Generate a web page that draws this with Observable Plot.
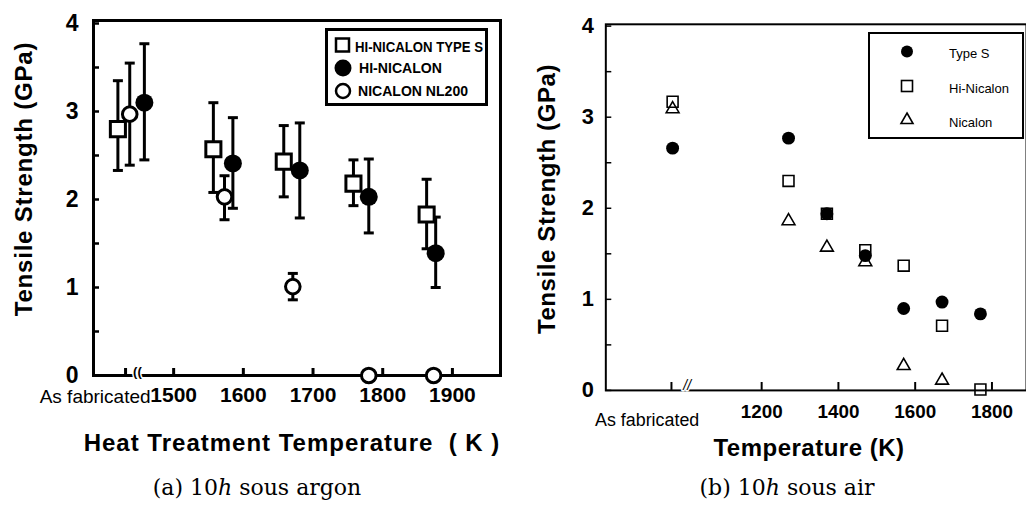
<!DOCTYPE html>
<html><head><meta charset="utf-8">
<script src="https://cdn.jsdelivr.net/npm/d3@7"></script>
<script src="https://cdn.jsdelivr.net/npm/@observablehq/plot@0.6"></script>
<style>
body{margin:0;background:#fff;}
#wrap{position:relative;width:1026px;height:507px;overflow:hidden;font-family:"Liberation Sans",Arial,sans-serif;color:#000;}
.abs{position:absolute;white-space:pre;}
.ctr{transform:translate(-50%,-50%);}
.rot{transform:translate(-50%,-50%) rotate(-90deg);}
.ttl{font-weight:bold;font-size:24px;line-height:1;}
.cap{font-family:"DejaVu Serif","Liberation Serif",serif;font-size:22px;line-height:1;}
</style></head><body>
<div id="wrap">
  <div id="pa" class="abs" style="left:0;top:0"></div>
  <div id="pb" class="abs" style="left:520px;top:0"></div>
  <div class="abs ttl rot" style="left:24px;top:179px;letter-spacing:0.8px">Tensile Strength (GPa)</div>
  <div class="abs ttl ctr" style="left:292px;top:443px;letter-spacing:1px">Heat Treatment Temperature  ( K )</div>
  <div class="abs cap ctr" style="left:257px;top:488px">(a) 10<i>h</i> sous argon</div>
  <div class="abs ttl rot" style="left:547px;top:199px;letter-spacing:0.6px">Tensile Strength (GPa)</div>
  <div class="abs ttl ctr" style="left:809px;top:448px;letter-spacing:0.5px">Temperature (K)</div>
  <div class="abs cap ctr" style="left:787px;top:488px">(b) 10<i>h</i> sous air</div>
  <div id="lega" class="abs" style="left:325px;top:28px"></div>
  <div id="legb" class="abs" style="left:868px;top:32px"></div>
</div>
<script>
// ---------- Panel (a): 10h under argon ----------
const asFabA = 1431;          // x position used for "As fabricated"
const breakA = 1448;          // axis break position
const xTicksA = [asFabA, 1500, 1600, 1700, 1800, 1900];
const yTicksA = [0, 0.5, 1, 1.5, 2, 2.5, 3, 3.5, 4];

const typeS_A_T  = [1420, 1557, 1658, 1758, 1863];
const typeS_A_v  = [2.80, 2.57, 2.43, 2.18, 1.83];
const typeS_A_lo = [2.33, 2.08, 2.03, 1.93, 1.44];
const typeS_A_hi = [3.35, 3.10, 2.84, 2.45, 2.23];

const hiNic_A_T  = [1458, 1585, 1681, 1780, 1876];
const hiNic_A_v  = [3.10, 2.41, 2.33, 2.03, 1.39];
const hiNic_A_lo = [2.45, 1.90, 1.79, 1.62, 1.00];
const hiNic_A_hi = [3.77, 2.93, 2.87, 2.46, 1.80];

const nl200_A_T  = [1437, 1573, 1671, 1780, 1873];
const nl200_A_v  = [2.97, 2.03, 1.01, 0, 0];
const nl200_A_lo = [2.39, 1.77, 0.86, null, null];
const nl200_A_hi = [3.55, 2.27, 1.16, null, null];

// ---------- Panel (b): 10h in air ----------
const asFabB = 965;
const breakB = 1006;
const xTicksB = [asFabB, 1200, 1400, 1600, 1800];
const yTicksB = [0, 0.5, 1, 1.5, 2, 2.5, 3, 3.5, 4];

const typeS_B_T = [968, 1270, 1370, 1470, 1570, 1670, 1770];
const typeS_B_v = [2.66, 2.77, 1.94, 1.48, 0.90, 0.97, 0.84];
const hiNic_B_T = [968, 1270, 1370, 1470, 1570, 1670, 1770];
const hiNic_B_v = [3.17, 2.30, 1.94, 1.54, 1.37, 0.71, 0.01];
const nical_B_T = [968, 1270, 1370, 1470, 1570, 1670];
const nical_B_v = [3.09, 1.86, 1.57, 1.41, 0.27, 0.11];

const rows = (T, v, lo, hi) => T.map((t, i) => ({T: t, v: v[i], lo: lo ? lo[i] : null, hi: hi ? hi[i] : null}));
const typeSA = rows(typeS_A_T, typeS_A_v, typeS_A_lo, typeS_A_hi);
const hiNicA = rows(hiNic_A_T, hiNic_A_v, hiNic_A_lo, hiNic_A_hi);
const nl200A = rows(nl200_A_T, nl200_A_v, nl200_A_lo, nl200_A_hi);
const errA = [...typeSA, ...hiNicA, ...nl200A].filter(d => d.lo != null);

const typeSB = rows(typeS_B_T, typeS_B_v);
const hiNicB = rows(hiNic_B_T, hiNic_B_v);
const nicalB = rows(nical_B_T, nical_B_v);

const capSym = {draw(ctx, size) { const h = Math.sqrt(size / Math.PI); ctx.moveTo(-h, 0); ctx.lineTo(h, 0); }};
const font = "Liberation Sans, Arial, sans-serif";
const blank = () => "";

const plotA = Plot.plot({
  width: 520, height: 460,
  marginLeft: 93, marginRight: 20, marginTop: 20, marginBottom: 85,
  x: {domain: [1385, 1969]},
  y: {domain: [0, 4.034]},
  style: {fontFamily: font, color: "black", background: "transparent", overflow: "visible"},
  marks: [
    // inward ticks (shifted into the frame)
    Plot.axisY(yTicksA, {tickSize: 6, dx: 6, strokeWidth: 2.5, tickFormat: blank, label: null}),
    Plot.axisX(xTicksA, {tickSize: 7, dy: -7, strokeWidth: 3, tickFormat: blank, label: null}),
    // labels
    Plot.axisY(yTicksA, {tickSize: 0, tickPadding: 15, fontSize: 23, fontWeight: "bold",
      tickFormat: d => Number.isInteger(d) ? String(d) : "", label: null}),
    Plot.axisX(xTicksA, {tickSize: 0, tickPadding: 12, fontSize: 21, fontWeight: "bold",
      tickFormat: d => d === asFabA ? "" : String(d), label: null}),
    Plot.text(["As fabricated"], {x: [asFabA], frameAnchor: "bottom", text: d => d, dy: 14, dx: 25,
      textAnchor: "end", lineAnchor: "top", fontSize: 19}),
    Plot.frame({strokeWidth: 3}),
    Plot.text([breakA], {x: d => d, frameAnchor: "bottom", text: () => "((", fontSize: 13, fontWeight: "bold",
      fill: "black", stroke: "white", strokeWidth: 3, paintOrder: "stroke"}),
    Plot.ruleX(errA, {x: "T", y1: "lo", y2: "hi", strokeWidth: 3}),
    Plot.dot(errA, {x: "T", y: "lo", symbol: capSym, r: 5, stroke: "black", fill: "none", strokeWidth: 3}),
    Plot.dot(errA, {x: "T", y: "hi", symbol: capSym, r: 5, stroke: "black", fill: "none", strokeWidth: 3}),
    Plot.dot(typeSA, {x: "T", y: "v", symbol: "square", r: 8.5, fill: "white", stroke: "black", strokeWidth: 3}),
    Plot.dot(hiNicA, {x: "T", y: "v", r: 9, fill: "black", stroke: "none"}),
    Plot.dot(nl200A, {x: "T", y: "v", r: 7.3, fill: "white", stroke: "black", strokeWidth: 3})
  ]
});
document.getElementById("pa").appendChild(plotA);

const plotB = Plot.plot({
  width: 510, height: 460,
  marginLeft: 86, marginRight: 0, marginTop: 24, marginBottom: 67,
  x: {domain: [794, 1890]},
  y: {domain: [0, 4.02]},
  style: {fontFamily: font, color: "black", background: "transparent", overflow: "visible"},
  marks: [
    Plot.axisY(yTicksB, {tickSize: 6, dx: 6, strokeWidth: 1.5, tickFormat: blank, label: null}),
    Plot.axisX(xTicksB, {tickSize: 8, dy: -8, strokeWidth: 2, tickFormat: blank, label: null}),
    Plot.axisY(yTicksB, {tickSize: 0, tickPadding: 12, fontSize: 22, fontWeight: "bold",
      tickFormat: d => Number.isInteger(d) ? String(d) : "", label: null}),
    Plot.axisX(xTicksB, {tickSize: 0, tickPadding: 14, fontSize: 19, fontWeight: "bold",
      tickFormat: d => d === asFabB ? "" : String(d), label: null}),
    Plot.text(["As fabricated"], {x: [asFabB], frameAnchor: "bottom", text: d => d, dy: 23, dx: 28,
      textAnchor: "end", lineAnchor: "top", fontSize: 18}),
    Plot.frame({strokeWidth: 2}),
    Plot.text([breakB], {x: d => d, frameAnchor: "bottom", text: () => "//", fontSize: 14, fontStyle: "italic",
      fill: "black", stroke: "white", strokeWidth: 3, paintOrder: "stroke"}),
    Plot.dot(typeSB, {x: "T", y: "v", r: 6.5, fill: "black", stroke: "none"}),
    Plot.dot(hiNicB, {x: "T", y: "v", symbol: "square", r: 6.2, fill: "none", stroke: "black", strokeWidth: 1.6}),
    Plot.dot(nicalB, {x: "T", y: "v", symbol: "triangle", r: 4.8, fill: "none", stroke: "black", strokeWidth: 1.6})
  ]
});
document.getElementById("pb").appendChild(plotB);

// ---------- Legends ----------
const NS = "http://www.w3.org/2000/svg";
function el(tag, attrs, parent) {
  const e = document.createElementNS(NS, tag);
  for (const k in attrs) e.setAttribute(k, attrs[k]);
  if (parent) parent.appendChild(e);
  return e;
}
function txt(parent, s, attrs) { const t = el("text", attrs, parent); t.textContent = s; return t; }

const legA = el("svg", {width: 165, height: 80});
el("rect", {x: 1.5, y: 1.5, width: 160, height: 75, fill: "white", stroke: "black", "stroke-width": 3}, legA);
el("rect", {x: 11, y: 10.5, width: 13, height: 13, fill: "white", stroke: "black", "stroke-width": 2.5}, legA);
txt(legA, "HI-NICALON  TYPE S", {x: 30, y: 24, "font-family": font, "font-size": 14, "font-weight": "bold", textLength: 128, lengthAdjust: "spacingAndGlyphs"});
el("circle", {cx: 18, cy: 40, r: 8.5, fill: "black"}, legA);
txt(legA, "HI-NICALON", {x: 34, y: 45, "font-family": font, "font-size": 14, "font-weight": "bold", textLength: 83, lengthAdjust: "spacingAndGlyphs"});
el("circle", {cx: 18, cy: 63, r: 7, fill: "white", stroke: "black", "stroke-width": 2.5}, legA);
txt(legA, "NICALON NL200", {x: 33, y: 68, "font-family": font, "font-size": 14, "font-weight": "bold", textLength: 110, lengthAdjust: "spacingAndGlyphs"});
document.getElementById("lega").appendChild(legA);

const legB = el("svg", {width: 157, height: 108});
el("rect", {x: 1, y: 1, width: 154, height: 105, fill: "white", stroke: "black", "stroke-width": 2}, legB);
el("circle", {cx: 39, cy: 19.5, r: 6, fill: "black"}, legB);
txt(legB, "Type S", {x: 81, y: 26, "font-family": font, "font-size": 13});
el("rect", {x: 33.5, y: 48.5, width: 11, height: 11, fill: "none", stroke: "black", "stroke-width": 1.6}, legB);
txt(legB, "Hi-Nicalon", {x: 81, y: 61, "font-family": font, "font-size": 13});
el("path", {d: "M39,81 L45,91.5 L33,91.5 Z", fill: "none", stroke: "black", "stroke-width": 1.6}, legB);
txt(legB, "Nicalon", {x: 81, y: 95, "font-family": font, "font-size": 13});
document.getElementById("legb").appendChild(legB);
</script>
</body></html>
